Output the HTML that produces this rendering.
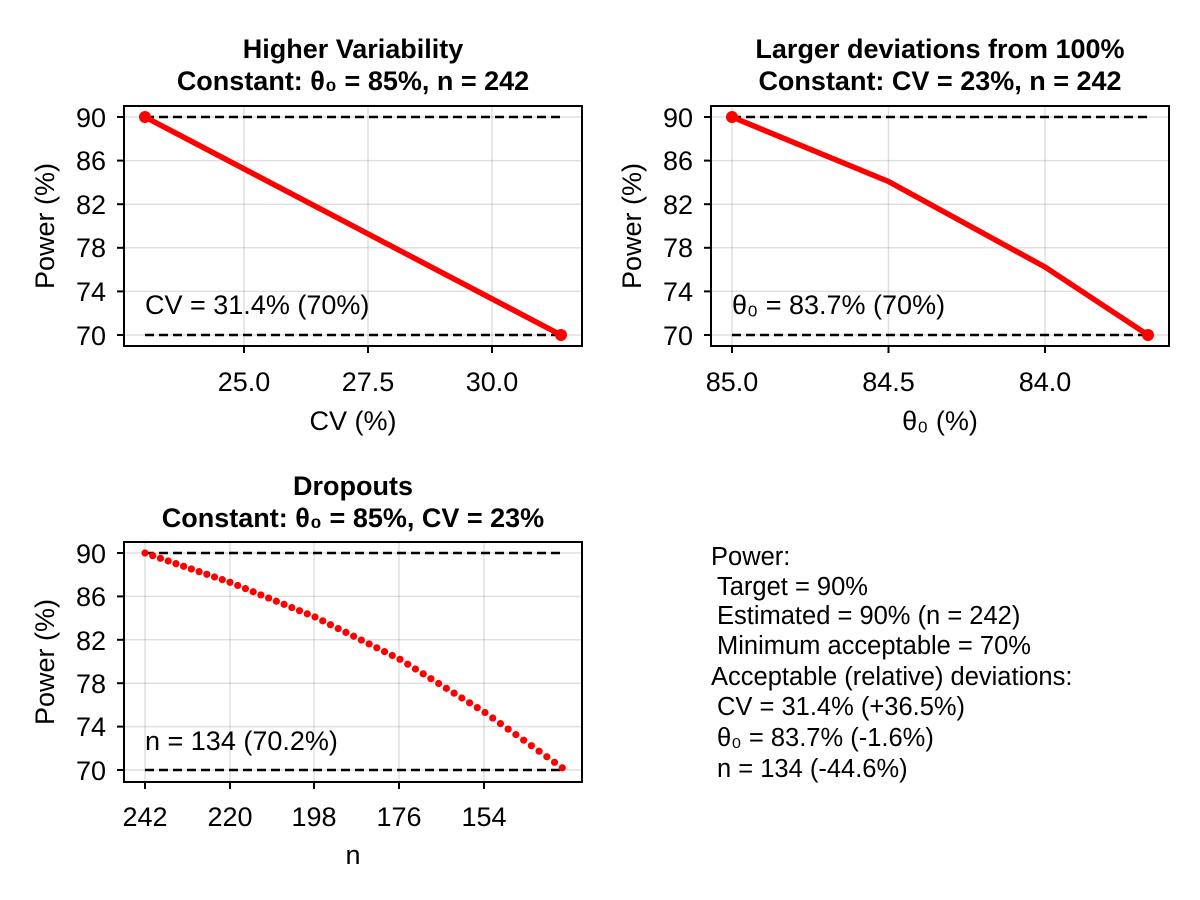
<!DOCTYPE html>
<html><head><meta charset="utf-8"><style>
html,body{margin:0;padding:0;background:#fff}
svg{display:block}
text{font-family:"Liberation Sans","DejaVu Sans",sans-serif;fill:#000}
</style></head><body>
<svg id="s" width="1200" height="900" xmlns="http://www.w3.org/2000/svg">
<rect width="1200" height="900" fill="#fff"/>
<!-- Plot 1 -->
<g id="p1">
<g stroke="#000" stroke-opacity="0.12" stroke-width="1.5">
<line x1="244" y1="106" x2="244" y2="346"/><line x1="368" y1="106" x2="368" y2="346"/><line x1="492" y1="106" x2="492" y2="346"/>
<line x1="124" y1="117" x2="582" y2="117"/><line x1="124" y1="160.6" x2="582" y2="160.6"/><line x1="124" y1="204.2" x2="582" y2="204.2"/><line x1="124" y1="247.8" x2="582" y2="247.8"/><line x1="124" y1="291.4" x2="582" y2="291.4"/><line x1="124" y1="335" x2="582" y2="335"/>
</g>
<g stroke="#000" stroke-width="2.5" stroke-dasharray="9,5"><line x1="145" y1="117" x2="562" y2="117"/><line x1="145" y1="335" x2="562" y2="335"/></g>
<polyline points="145,117 561,335" fill="none" stroke="#f00" stroke-width="5.5"/>
<circle cx="145" cy="117" r="6" fill="#f00"/><circle cx="561" cy="335" r="6" fill="#f00"/>
<rect x="124" y="106" width="458" height="240" fill="none" stroke="#000" stroke-width="2"/>
<g stroke="#000" stroke-width="2"><line x1="117" y1="117" x2="124" y2="117"/><line x1="117" y1="160.6" x2="124" y2="160.6"/><line x1="117" y1="204.2" x2="124" y2="204.2"/><line x1="117" y1="247.8" x2="124" y2="247.8"/><line x1="117" y1="291.4" x2="124" y2="291.4"/><line x1="117" y1="335" x2="124" y2="335"/>
<line x1="244" y1="346" x2="244" y2="353"/><line x1="368" y1="346" x2="368" y2="353"/><line x1="492" y1="346" x2="492" y2="353"/></g>
<g font-size="27" text-anchor="end"><text x="106" y="127">90</text><text x="106" y="170">86</text><text x="106" y="214">82</text><text x="106" y="257">78</text><text x="106" y="301">74</text><text x="106" y="345">70</text></g>
<g font-size="27" text-anchor="middle"><text x="244" y="391">25.0</text><text x="368" y="391">27.5</text><text x="492" y="391">30.0</text></g>
<text x="353" y="430" font-size="27" text-anchor="middle">CV (%)</text>
<text transform="translate(54,226) rotate(-90)" font-size="27" text-anchor="middle">Power (%)</text>
<text x="145" y="314" font-size="27">CV = 31.4% (70%)</text>
<text x="353" y="58" font-size="27" font-weight="bold" text-anchor="middle">Higher Variability</text>
<text x="353" y="90" font-size="27" font-weight="bold" text-anchor="middle">Constant: θ₀ = 85%, n = 242</text>
</g>
<!-- Plot 2 -->
<g transform="translate(587,0)">
<g stroke="#000" stroke-opacity="0.12" stroke-width="1.5">
<line x1="145" y1="106" x2="145" y2="346"/><line x1="301.5" y1="106" x2="301.5" y2="346"/><line x1="458" y1="106" x2="458" y2="346"/>
<line x1="124" y1="117" x2="582" y2="117"/><line x1="124" y1="160.6" x2="582" y2="160.6"/><line x1="124" y1="204.2" x2="582" y2="204.2"/><line x1="124" y1="247.8" x2="582" y2="247.8"/><line x1="124" y1="291.4" x2="582" y2="291.4"/><line x1="124" y1="335" x2="582" y2="335"/>
</g>
<g stroke="#000" stroke-width="2.5" stroke-dasharray="9,5"><line x1="145" y1="117" x2="562" y2="117"/><line x1="145" y1="335" x2="562" y2="335"/></g>
<polyline points="145,117 301.5,181.5 458,267 561,335" fill="none" stroke="#f00" stroke-width="5.5" stroke-linejoin="round"/>
<circle cx="145" cy="117" r="6" fill="#f00"/><circle cx="561" cy="335" r="6" fill="#f00"/>
<rect x="124" y="106" width="458" height="240" fill="none" stroke="#000" stroke-width="2"/>
<g stroke="#000" stroke-width="2"><line x1="117" y1="117" x2="124" y2="117"/><line x1="117" y1="160.6" x2="124" y2="160.6"/><line x1="117" y1="204.2" x2="124" y2="204.2"/><line x1="117" y1="247.8" x2="124" y2="247.8"/><line x1="117" y1="291.4" x2="124" y2="291.4"/><line x1="117" y1="335" x2="124" y2="335"/>
<line x1="145" y1="346" x2="145" y2="353"/><line x1="301.5" y1="346" x2="301.5" y2="353"/><line x1="458" y1="346" x2="458" y2="353"/></g>
<g font-size="27" text-anchor="end"><text x="106" y="127">90</text><text x="106" y="170">86</text><text x="106" y="214">82</text><text x="106" y="257">78</text><text x="106" y="301">74</text><text x="106" y="345">70</text></g>
<g font-size="27" text-anchor="middle"><text x="145" y="391">85.0</text><text x="301.5" y="391">84.5</text><text x="458" y="391">84.0</text></g>
<text x="353" y="430" font-size="27" text-anchor="middle">θ₀ (%)</text>
<text transform="translate(54,226) rotate(-90)" font-size="27" text-anchor="middle">Power (%)</text>
<text x="145" y="314" font-size="27">θ₀ = 83.7% (70%)</text>
<text x="353" y="58" font-size="27" font-weight="bold" text-anchor="middle">Larger deviations from 100%</text>
<text x="353" y="90" font-size="27" font-weight="bold" text-anchor="middle">Constant: CV = 23%, n = 242</text>
</g>
<!-- Plot 3 -->
<g id="p3">
<g stroke="#000" stroke-opacity="0.12" stroke-width="1.5">
<line x1="145" y1="542" x2="145" y2="782"/><line x1="230" y1="542" x2="230" y2="782"/><line x1="314" y1="542" x2="314" y2="782"/><line x1="399" y1="542" x2="399" y2="782"/><line x1="484" y1="542" x2="484" y2="782"/>
<line x1="124" y1="553" x2="582" y2="553"/><line x1="124" y1="596.4" x2="582" y2="596.4"/><line x1="124" y1="639.8" x2="582" y2="639.8"/><line x1="124" y1="683.2" x2="582" y2="683.2"/><line x1="124" y1="726.6" x2="582" y2="726.6"/><line x1="124" y1="770" x2="582" y2="770"/>
</g>
<g stroke="#000" stroke-width="2.5" stroke-dasharray="9,5"><line x1="145" y1="553" x2="562" y2="553"/><line x1="145" y1="770" x2="562" y2="770"/></g>
<g id="dots" fill="#f00"></g>
<rect x="124" y="542" width="458" height="240" fill="none" stroke="#000" stroke-width="2"/>
<g stroke="#000" stroke-width="2"><line x1="117" y1="553" x2="124" y2="553"/><line x1="117" y1="596.4" x2="124" y2="596.4"/><line x1="117" y1="639.8" x2="124" y2="639.8"/><line x1="117" y1="683.2" x2="124" y2="683.2"/><line x1="117" y1="726.6" x2="124" y2="726.6"/><line x1="117" y1="770" x2="124" y2="770"/>
<line x1="145" y1="782" x2="145" y2="789"/><line x1="230" y1="782" x2="230" y2="789"/><line x1="314" y1="782" x2="314" y2="789"/><line x1="399" y1="782" x2="399" y2="789"/><line x1="484" y1="782" x2="484" y2="789"/></g>
<g font-size="27" text-anchor="end"><text x="106" y="563">90</text><text x="106" y="606">86</text><text x="106" y="650">82</text><text x="106" y="693">78</text><text x="106" y="736">74</text><text x="106" y="780">70</text></g>
<g font-size="27" text-anchor="middle"><text x="145" y="826">242</text><text x="230" y="826">220</text><text x="314" y="826">198</text><text x="399" y="826">176</text><text x="484" y="826">154</text></g>
<text x="353" y="864" font-size="27" text-anchor="middle">n</text>
<text transform="translate(54,662) rotate(-90)" font-size="27" text-anchor="middle">Power (%)</text>
<text x="145" y="750" font-size="27">n = 134 (70.2%)</text>
<text x="353" y="495" font-size="27" font-weight="bold" text-anchor="middle">Dropouts</text>
<text x="353" y="527" font-size="27" font-weight="bold" text-anchor="middle">Constant: θ₀ = 85%, CV = 23%</text>
</g>
<!-- Text panel -->
<g font-size="25.5">
<text x="711" y="565">Power:</text>
<text x="717" y="595">Target = 90%</text>
<text x="717" y="624">Estimated = 90% (n = 242)</text>
<text x="717" y="654">Minimum acceptable = 70%</text>
<text x="711" y="685">Acceptable (relative) deviations:</text>
<text x="717" y="715">CV = 31.4% (+36.5%)</text>
<text x="717" y="746">θ₀ = 83.7% (-1.6%)</text>
<text x="717" y="777">n = 134 (-44.6%)</text>
</g>
</svg>
<script>
(function(){
var pts=[[242,90],[220,87.3],[198,84.1],[176,80.2],[154,75.3],[134,70.2]];
function P(n){for(var i=0;i<pts.length-1;i++){var a=pts[i],b=pts[i+1];if(n<=a[0]&&n>=b[0]){var t=(a[0]-n)/(a[0]-b[0]);return a[1]+t*(b[1]-a[1]);}}return 70.2;}
var g=document.getElementById('dots'),ns='http://www.w3.org/2000/svg';
for(var n=242;n>=134;n-=2){var c=document.createElementNS(ns,'circle');
c.setAttribute('cx',145+(242-n)*85/22);c.setAttribute('cy',553+(90-P(n))*10.85);c.setAttribute('r',3.6);g.appendChild(c);}
})();
</script>
</body></html>
